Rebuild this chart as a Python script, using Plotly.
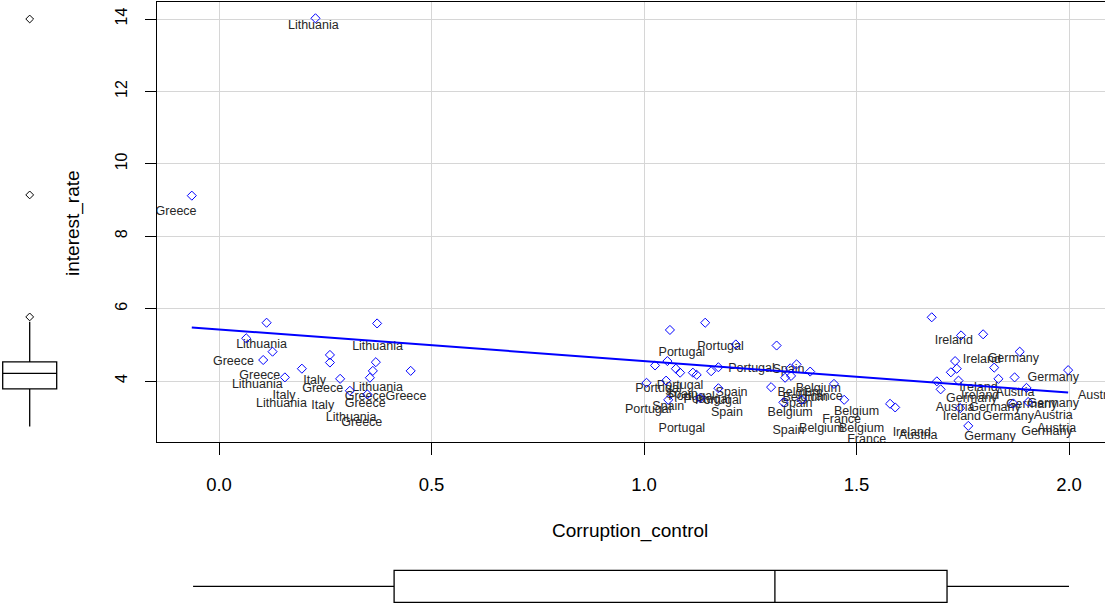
import plotly.graph_objects as go

# ---------------- data ----------------
corruption_control = [
    0.112, 0.372, 0.064, 0.126, 0.104, 0.261, 0.261, 0.369, 0.195, 0.362, 0.451,
    0.155, 0.285, 0.355, 0.308, 0.349, 0.227, -0.064,
    1.061, 1.144, 1.216, 1.312, 1.055, 1.026, 1.075, 1.085, 1.115, 1.124, 1.158,
    1.175, 1.344, 1.359, 1.391, 1.332, 1.346, 1.006, 1.052, 1.175, 1.299, 1.447,
    1.471, 1.328, 1.057, 1.371, 1.132,
    1.677, 1.746, 1.798, 1.884, 1.732, 1.736, 1.722, 1.824, 1.834, 1.872, 1.998,
    1.740, 1.689, 1.698, 1.900, 1.579, 1.591, 1.763, 1.869, 1.904, 1.744,
]
interest_rate = [
    5.61, 5.59, 5.18, 4.81, 4.58, 4.72, 4.51, 4.52, 4.34, 4.28, 4.28,
    4.10, 4.06, 4.09, 3.73, 3.63, 14.02, 9.12,
    5.41, 5.61, 5.01, 4.98, 4.55, 4.43, 4.34, 4.23, 4.23, 4.17, 4.27,
    4.38, 4.35, 4.46, 4.26, 4.09, 4.14, 3.95, 4.01, 3.80, 3.83, 3.92,
    3.48, 3.41, 3.48, 3.48, 3.53,
    5.76, 5.26, 5.29, 4.81, 4.55, 4.34, 4.24, 4.37, 4.06, 4.10, 4.30,
    4.01, 3.99, 3.77, 3.81, 3.37, 3.27, 2.76, 3.38, 3.42, 3.25,
]

label_text = [
    "Lithuania", "Lithuania", "Greece", "Greece", "Lithuania", "Italy", "Greece",
    "Italy", "Lithuania", "Italy", "Lithuania", "Greece", "Greece", "Greece",
    "Lithuania", "Greece", "Lithuania", "Greece",
    "Portugal", "Portugal", "Portugal", "Portugal", "Portugal", "Portugal",
    "Portugal", "Portugal", "Portugal", "Portugal",
    "Spain", "Spain", "Spain", "Spain", "Spain", "Spain", "Spain",
    "Belgium", "Belgium", "Belgium", "Belgium", "Belgium", "Belgium", "Belgium",
    "France", "France", "France",
    "Ireland", "Ireland", "Ireland", "Ireland", "Ireland", "Ireland",
    "Germany", "Germany", "Germany", "Germany", "Germany", "Germany", "Germany",
    "Germany", "Germany",
    "Austria", "Austria", "Austria", "Austria", "Austria", "Austria",
]
label_x = [
    0.100, 0.373, 0.034, 0.096, 0.090, 0.225, 0.244, 0.153, 0.147, 0.244, 0.373,
    0.344, 0.440, 0.344, 0.311, 0.336, 0.222, -0.101,
    1.180, 1.089, 1.253, 1.085, 1.034, 1.112, 1.148, 1.175, 1.010, 1.089,
    1.340, 1.206, 1.089, 1.057, 1.195, 1.359, 1.340,
    1.410, 1.367, 1.379, 1.344, 1.500, 1.418, 1.512,
    1.422, 1.465, 1.524,
    1.729, 1.795, 1.787, 1.791, 1.748, 1.630,
    1.869, 1.963, 1.771, 1.826, 1.912, 1.963, 1.857, 1.948, 1.814,
    1.873, 1.732, 1.963, 1.971, 1.645, 2.067,
]
label_y = [
    4.99, 4.95, 4.52, 4.14, 3.88, 4.01, 3.79, 3.60, 3.36, 3.31, 3.80,
    3.57, 3.56, 3.36, 2.97, 2.85, 13.81, 8.66,
    4.95, 4.77, 4.34, 3.86, 3.77, 3.57, 3.49, 3.45, 3.20, 2.69,
    4.32, 3.68, 3.61, 3.29, 3.11, 3.38, 2.63,
    3.77, 3.66, 3.53, 3.11, 3.15, 2.69, 2.69,
    3.57, 2.92, 2.37,
    5.11, 4.58, 3.81, 3.59, 3.01, 2.57,
    4.61, 4.09, 3.50, 3.26, 3.34, 3.36, 3.01, 2.60, 2.46,
    3.66, 3.25, 3.04, 2.69, 2.48, 3.59,
]

# least-squares line
fit_intercept = 5.425
fit_slope = -0.873

# marginal boxplot statistics
y_box_stats = {"q1": 3.78, "median": 4.21, "q3": 4.53, "low": 2.74, "high": 5.64}
y_box_outliers = [5.77, 9.14, 14.0]
x_box_stats = {"q1": 0.412, "median": 1.308, "q3": 1.713, "low": -0.061, "high": 2.0}

x_ticks = [0.0, 0.5, 1.0, 1.5, 2.0]
y_ticks = [4, 6, 8, 10, 12, 14]

# ---------------- figure ----------------
W, H = 1105, 603
FONT = "Liberation Sans, Arial, sans-serif"

fig = go.Figure()

# labels (drawn first, under points)
fig.add_trace(go.Scatter(
    x=label_x, y=label_y, text=label_text, mode="text",
    textfont=dict(family=FONT, size=12.5, color="#262626"),
    cliponaxis=True, hoverinfo="skip", showlegend=False,
))

# points
fig.add_trace(go.Scatter(
    x=corruption_control, y=interest_rate, mode="markers",
    marker=dict(symbol="diamond-open", size=7, color="#0000FF",
                line=dict(width=1, color="#0000FF")),
    showlegend=False,
))

# regression line
x_lo, x_hi = min(corruption_control), max(corruption_control)
fig.add_trace(go.Scatter(
    x=[x_lo, x_hi],
    y=[fit_intercept + fit_slope * x_lo, fit_intercept + fit_slope * x_hi],
    mode="lines", line=dict(color="#0000FF", width=2), showlegend=False,
))

# left marginal boxplot (interest_rate)
fig.add_trace(go.Box(
    x=[29.7], q1=[y_box_stats["q1"]], median=[y_box_stats["median"]],
    q3=[y_box_stats["q3"]], lowerfence=[y_box_stats["low"]],
    upperfence=[y_box_stats["high"]], width=54, whiskerwidth=0,
    fillcolor="white", line=dict(color="black", width=1.3),
    xaxis="x2", yaxis="y2", showlegend=False, boxpoints=False,
))
fig.add_trace(go.Scatter(
    x=[29.7] * len(y_box_outliers), y=y_box_outliers, mode="markers",
    marker=dict(symbol="diamond-open", size=6, color="black", line=dict(width=1)),
    xaxis="x2", yaxis="y2", showlegend=False,
))

# bottom marginal boxplot (Corruption_control)
fig.add_trace(go.Box(
    y=[16.6], q1=[x_box_stats["q1"]], median=[x_box_stats["median"]],
    q3=[x_box_stats["q3"]], lowerfence=[x_box_stats["low"]],
    upperfence=[x_box_stats["high"]], width=32, whiskerwidth=0,
    orientation="h", fillcolor="white", line=dict(color="black", width=1.3),
    xaxis="x3", yaxis="y3", showlegend=False, boxpoints=False,
))

plot_left, plot_top, plot_bottom = 157, 2, 442
px_per_x = 425.0
px_per_y = 36.2
x0_px = 219.0
y4_px = 381.0
x_range = [(plot_left - x0_px) / px_per_x, (W - x0_px) / px_per_x]
y_range = [4 - (plot_bottom - y4_px) / px_per_y, 4 + (y4_px - plot_top) / px_per_y]
x_dom = [plot_left / W, 1.0]
y_dom = [1 - plot_bottom / H, 1 - plot_top / H]

fig.update_layout(
    width=W, height=H, margin=dict(l=0, r=0, t=0, b=0),
    paper_bgcolor="white", plot_bgcolor="white",
    font=dict(family=FONT, color="black"),
    xaxis=dict(
        domain=x_dom, range=x_range, anchor="y",
        tickvals=x_ticks, ticktext=[f"{v:.1f}" for v in x_ticks],
        ticks="outside", ticklen=12, tickwidth=1, tickcolor="black",
        tickfont=dict(size=18.5, family=FONT, color="black"),
        showgrid=True, gridcolor="#D6D6D6", gridwidth=1, zeroline=False,
        showline=True, linecolor="black", linewidth=1.2, mirror=True,
        ticklabelstandoff=14,
    ),
    yaxis=dict(
        domain=y_dom, range=y_range, anchor="x",
        tickvals=y_ticks, tickangle=-90,
        ticks="outside", ticklen=11, tickwidth=1, tickcolor="black",
        tickfont=dict(size=16, family=FONT, color="black"),
        showgrid=True, gridcolor="#D6D6D6", gridwidth=1, zeroline=False,
        showline=True, linecolor="black", linewidth=1.2, mirror=False,
        ticklabelstandoff=12,
    ),
    xaxis2=dict(domain=[0, 60 / W], range=[0, 60], anchor="y2", visible=False),
    yaxis2=dict(domain=y_dom, range=y_range, anchor="x2", visible=False),
    xaxis3=dict(domain=x_dom, range=x_range, anchor="y3", visible=False),
    yaxis3=dict(domain=[0, 40 / H], range=[0, 40], anchor="x3", visible=False),
    annotations=[
        dict(text="interest_rate", x=73 / W, y=1 - 223 / H, xref="paper", yref="paper",
             textangle=-90, showarrow=False, xanchor="center", yanchor="middle",
             font=dict(size=19, family=FONT, color="black")),
        dict(text="Corruption_control", x=630 / W, y=1 - 531 / H, xref="paper",
             yref="paper", showarrow=False, xanchor="center", yanchor="middle",
             font=dict(size=19, family=FONT, color="black")),
    ],
)

fig.write_html("out.html")
